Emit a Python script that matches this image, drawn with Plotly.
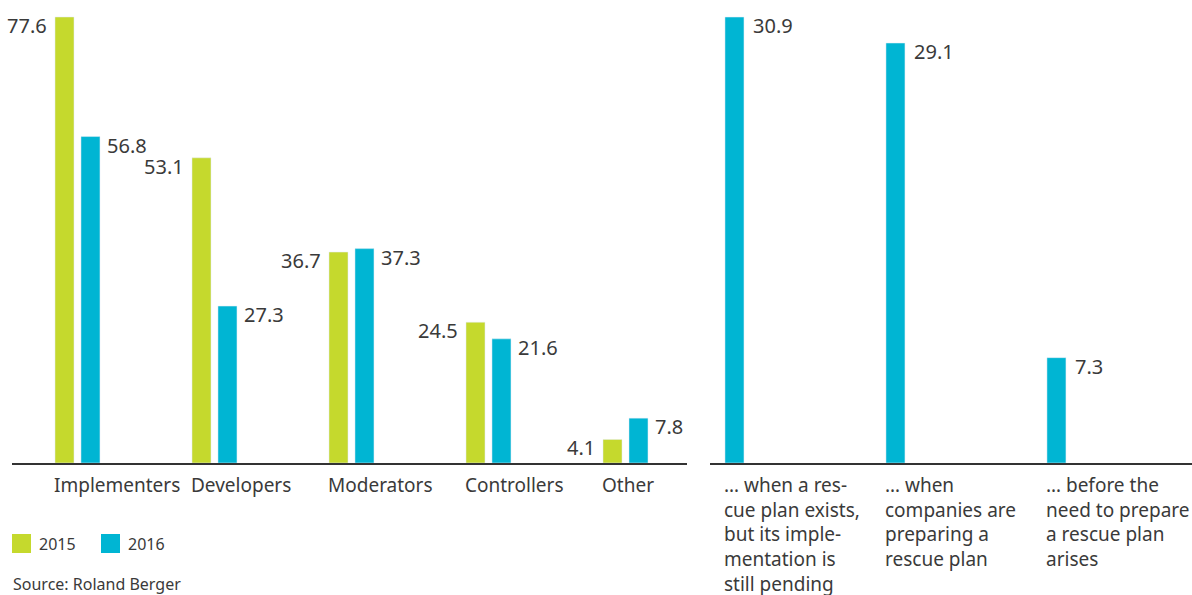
import plotly.graph_objects as go

# ---- data ----
categories = ["Implementers", "Developers", "Moderators", "Controllers", "Other"]
values_2015 = [77.6, 53.1, 36.7, 24.5, 4.1]
values_2016 = [56.8, 27.3, 37.3, 21.6, 7.8]
series_names = ["2015", "2016"]

stage_labels = [
    "… when a res-<br>cue plan exists,<br>but its imple-<br>mentation is<br>still pending",
    "… when<br>companies are<br>preparing a<br>rescue plan",
    "… before the<br>need to prepare<br>a rescue plan<br>arises",
]
stage_values = [30.9, 29.1, 7.3]
source_text = "Source: Roland Berger"

# ---- style ----
GREEN = "#c5d92d"
CYAN = "#00b5d3"
TEXT = "#3a3a3a"
FONT = "Noto Sans"
W, H = 1192, 595

L_W = 0.1387   # left bar width (category units)
L_OFF15 = -0.1642
L_OFF16 = 0.0255
R_W = 0.118

xl = list(range(len(categories)))
xr = list(range(len(stage_labels)))

fig = go.Figure()
fig.add_trace(go.Bar(x=xl, y=values_2015, name=series_names[0], marker_color=GREEN,
                     width=L_W, offset=L_OFF15, xaxis="x", yaxis="y", showlegend=False))
fig.add_trace(go.Bar(x=xl, y=values_2016, name=series_names[1], marker_color=CYAN,
                     width=L_W, offset=L_OFF16, xaxis="x", yaxis="y", showlegend=False))
fig.add_trace(go.Bar(x=xr, y=stage_values, name="stage", marker_color=CYAN,
                     width=R_W, offset=-R_W / 2, xaxis="x2", yaxis="y2", showlegend=False))

ann = []
vfont = dict(family=FONT, size=20, color=TEXT)
cfont = dict(family=FONT, size=19, color=TEXT)
for i, (a, b) in enumerate(zip(values_2015, values_2016)):
    ann.append(dict(x=i + L_OFF15, y=a, xref="x", yref="y", text=str(a), showarrow=False,
                    xanchor="right", yanchor="top", xshift=-6, yshift=7, font=vfont))
    ann.append(dict(x=i + L_OFF16 + L_W, y=b, xref="x", yref="y", text=str(b), showarrow=False,
                    xanchor="left", yanchor="top", xshift=5, yshift=7, font=vfont))
    ann.append(dict(x=i + L_OFF15, y=0, xref="x", yref="y", text=categories[i], showarrow=False,
                    xanchor="left", yanchor="top", xshift=-3, yshift=-7, font=cfont))
for i, v in enumerate(stage_values):
    ann.append(dict(x=i + R_W / 2, y=v, xref="x2", yref="y2", text=str(v), showarrow=False,
                    xanchor="left", yanchor="top", xshift=7, yshift=7, font=vfont))
    ann.append(dict(x=i - R_W / 2, y=0, xref="x2", yref="y2", text=stage_labels[i], showarrow=False,
                    xanchor="left", yanchor="top", align="left", xshift=-3, yshift=-7, font=cfont))

# manual legend
shapes = []
leg_colors = [GREEN, CYAN]
leg_x = [12, 101]
for name, col, lx in zip(series_names, leg_colors, leg_x):
    shapes.append(dict(type="rect", xref="paper", yref="paper",
                       x0=lx / W, x1=(lx + 19) / W, y0=1 - 553 / H, y1=1 - 534 / H,
                       fillcolor=col, line=dict(width=0)))
    ann.append(dict(x=(lx + 25) / W, y=1 - 543.5 / H, xref="paper", yref="paper", text=name,
                    showarrow=False, xanchor="left", yanchor="middle",
                    font=dict(family=FONT, size=16, color=TEXT)))
ann.append(dict(x=11 / W, y=1 - 584 / H, xref="paper", yref="paper", text=source_text,
                showarrow=False, xanchor="left", yanchor="middle",
                font=dict(family=FONT, size=16, color=TEXT)))

ydom = [1 - 463 / H, 1 - 3.2 / H]
fig.update_layout(
    width=W, height=H, margin=dict(l=0, r=0, t=0, b=0),
    paper_bgcolor="white", plot_bgcolor="white",
    barmode="overlay",
    xaxis=dict(domain=[12 / W, 687 / W], range=[-0.478, 4.449], showticklabels=False,
               showgrid=False, zeroline=False, showline=True, linecolor="#333333", linewidth=1.5,
               ticks="", fixedrange=True),
    yaxis=dict(domain=ydom, range=[0, 80], visible=False, fixedrange=True),
    xaxis2=dict(domain=[710 / W, 1.0], range=[-0.152, 2.842], showticklabels=False,
                showgrid=False, zeroline=False, showline=True, linecolor="#333333", linewidth=1.5,
                ticks="", anchor="y2", fixedrange=True),
    yaxis2=dict(domain=ydom, range=[0, 31.86], visible=False, anchor="x2", fixedrange=True),
    annotations=ann, shapes=shapes,
    font=dict(family=FONT, color=TEXT),
)
fig.write_html("out.html")
